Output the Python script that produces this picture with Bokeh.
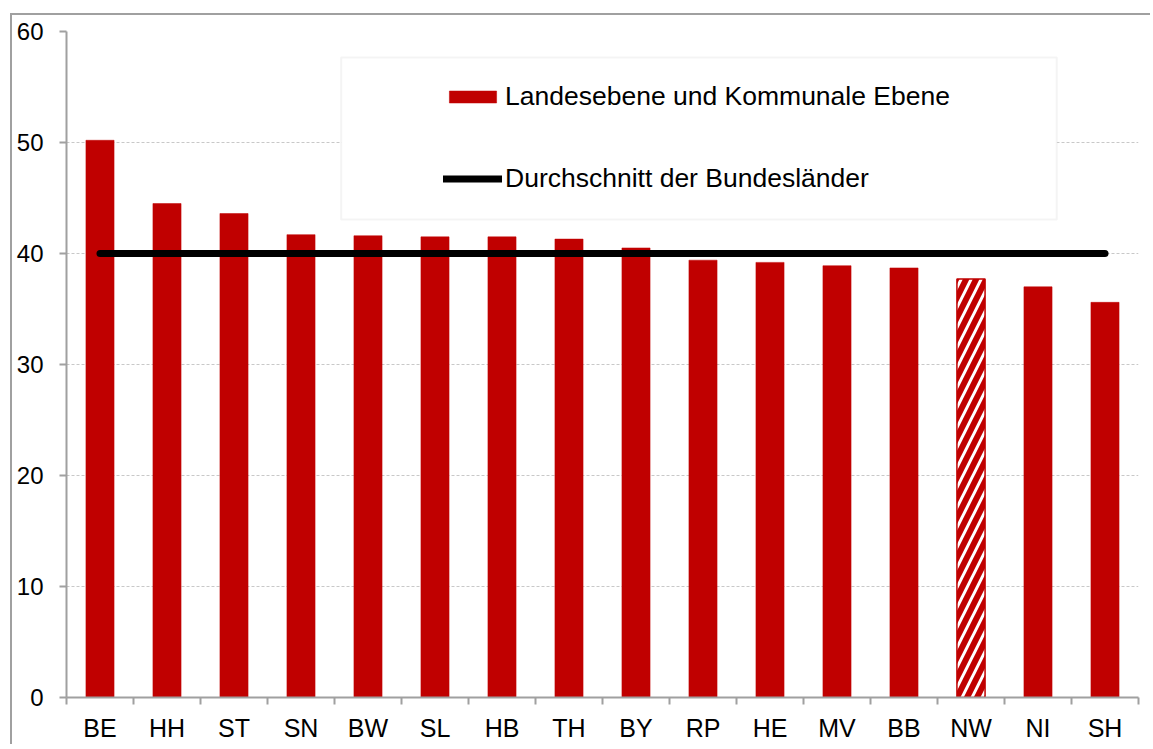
from bokeh.plotting import figure
from bokeh.models import (ColumnDataSource, FixedTicker, Legend, LegendItem,
                          BoxAnnotation, Range1d)
from bokeh.embed import file_html
from bokeh.resources import INLINE

# ---- data ----
laender = ["BE", "HH", "ST", "SN", "BW", "SL", "HB", "TH",
           "BY", "RP", "HE", "MV", "BB", "NW", "NI", "SH"]
werte = [50.2, 44.5, 43.6, 41.7, 41.6, 41.5, 41.5, 41.3,
         40.5, 39.4, 39.2, 38.9, 38.7, 37.7, 37.0, 35.6]
durchschnitt = 40.0
schraffiert = ["NW"]
y_ticks = [0, 10, 20, 30, 40, 50, 60]
serie_bar = "Landesebene und Kommunale Ebene"
serie_line = "Durchschnitt der Bundesländer"

RED = "#C00000"
GRAY = "#a0a0a0"
FONT = "Liberation Sans"

n = len(laender)
pos = [i + 1 for i in range(n)]

solid = ColumnDataSource(dict(
    x=[p_ for p_, l in zip(pos, laender) if l not in schraffiert],
    top=[v for v, l in zip(werte, laender) if l not in schraffiert]))
hatch = ColumnDataSource(dict(
    x=[p_ for p_, l in zip(pos, laender) if l in schraffiert],
    top=[v for v, l in zip(werte, laender) if l in schraffiert]))
avg = ColumnDataSource(dict(x=[pos[0], pos[-1]], y=[durchschnitt, durchschnitt]))

p = figure(output_backend="svg", toolbar_location=None,
           frame_width=1072, frame_height=666,
           min_border_left=54, min_border_top=16, min_border_bottom=42,
           min_border_right=12,
           x_range=Range1d(0.5, n + 0.5), y_range=Range1d(0, 60))
p.styles = {"border-left": f"2px solid {GRAY}", "border-top": f"2px solid {GRAY}",
            "margin-left": "10px", "margin-top": "13px"}
p.outline_line_color = None
p.background_fill_color = "white"
p.border_fill_color = "white"

bars = p.vbar(x="x", top="top", width=0.42, source=solid,
              fill_color=RED, line_color=RED, line_width=0.5)
p.vbar(x="x", top="top", width=0.42, source=hatch,
       fill_color="white", line_color=RED, line_width=1.5,
       hatch_pattern="/", hatch_color=RED, hatch_scale=20, hatch_weight=6)
line = p.line(x="x", y="y", source=avg, line_width=7, line_color="black",
              line_cap="round")

# axes
p.xaxis.ticker = FixedTicker(ticks=pos, minor_ticks=[i + 0.5 for i in range(n + 1)])
p.xaxis.major_label_overrides = {pp: lab for pp, lab in zip(pos, laender)}
p.xaxis.major_tick_out = 0
p.xaxis.major_tick_in = 0
p.xaxis.minor_tick_out = 7
p.xaxis.minor_tick_in = 0
p.xaxis.minor_tick_line_color = GRAY
p.xaxis.minor_tick_line_width = 2
p.xaxis.major_label_standoff = 9
p.xaxis.major_label_text_font_size = "25px"

p.yaxis.ticker = FixedTicker(ticks=y_ticks)
p.yaxis.minor_tick_line_color = None
p.yaxis.major_tick_out = 7
p.yaxis.major_tick_in = 0
p.yaxis.major_tick_line_color = GRAY
p.yaxis.major_tick_line_width = 2
p.yaxis.major_label_standoff = 16
p.yaxis.major_label_text_font_size = "24px"

for ax in (p.xaxis, p.yaxis):
    ax.axis_line_color = GRAY
    ax.axis_line_width = 2
    ax.major_label_text_font = FONT
    ax.major_label_text_color = "black"

p.xgrid.visible = False
p.ygrid.grid_line_color = "#c8c8c8"
p.ygrid.grid_line_dash = "3 2"
p.ygrid.grid_line_width = 1

# legend frame
box = BoxAnnotation(left=4.6, right=15.28, top=57.66, bottom=43.06,
                    fill_color="white", fill_alpha=1.0,
                    line_color="#d9d9d9", line_width=2)
p.add_layout(box)

legend = Legend(items=[LegendItem(label=serie_bar, renderers=[bars]),
                       LegendItem(label=serie_line, renderers=[line])],
                location=(377, 503), orientation="vertical",
                spacing=51, padding=0, margin=0,
                glyph_width=59, glyph_height=15, label_standoff=3,
                label_text_font=FONT, label_text_font_size="26.5px",
                label_text_color="black",
                border_line_alpha=0, background_fill_alpha=0)
p.add_layout(legend)

open("out.html", "w").write(file_html(p, INLINE))
